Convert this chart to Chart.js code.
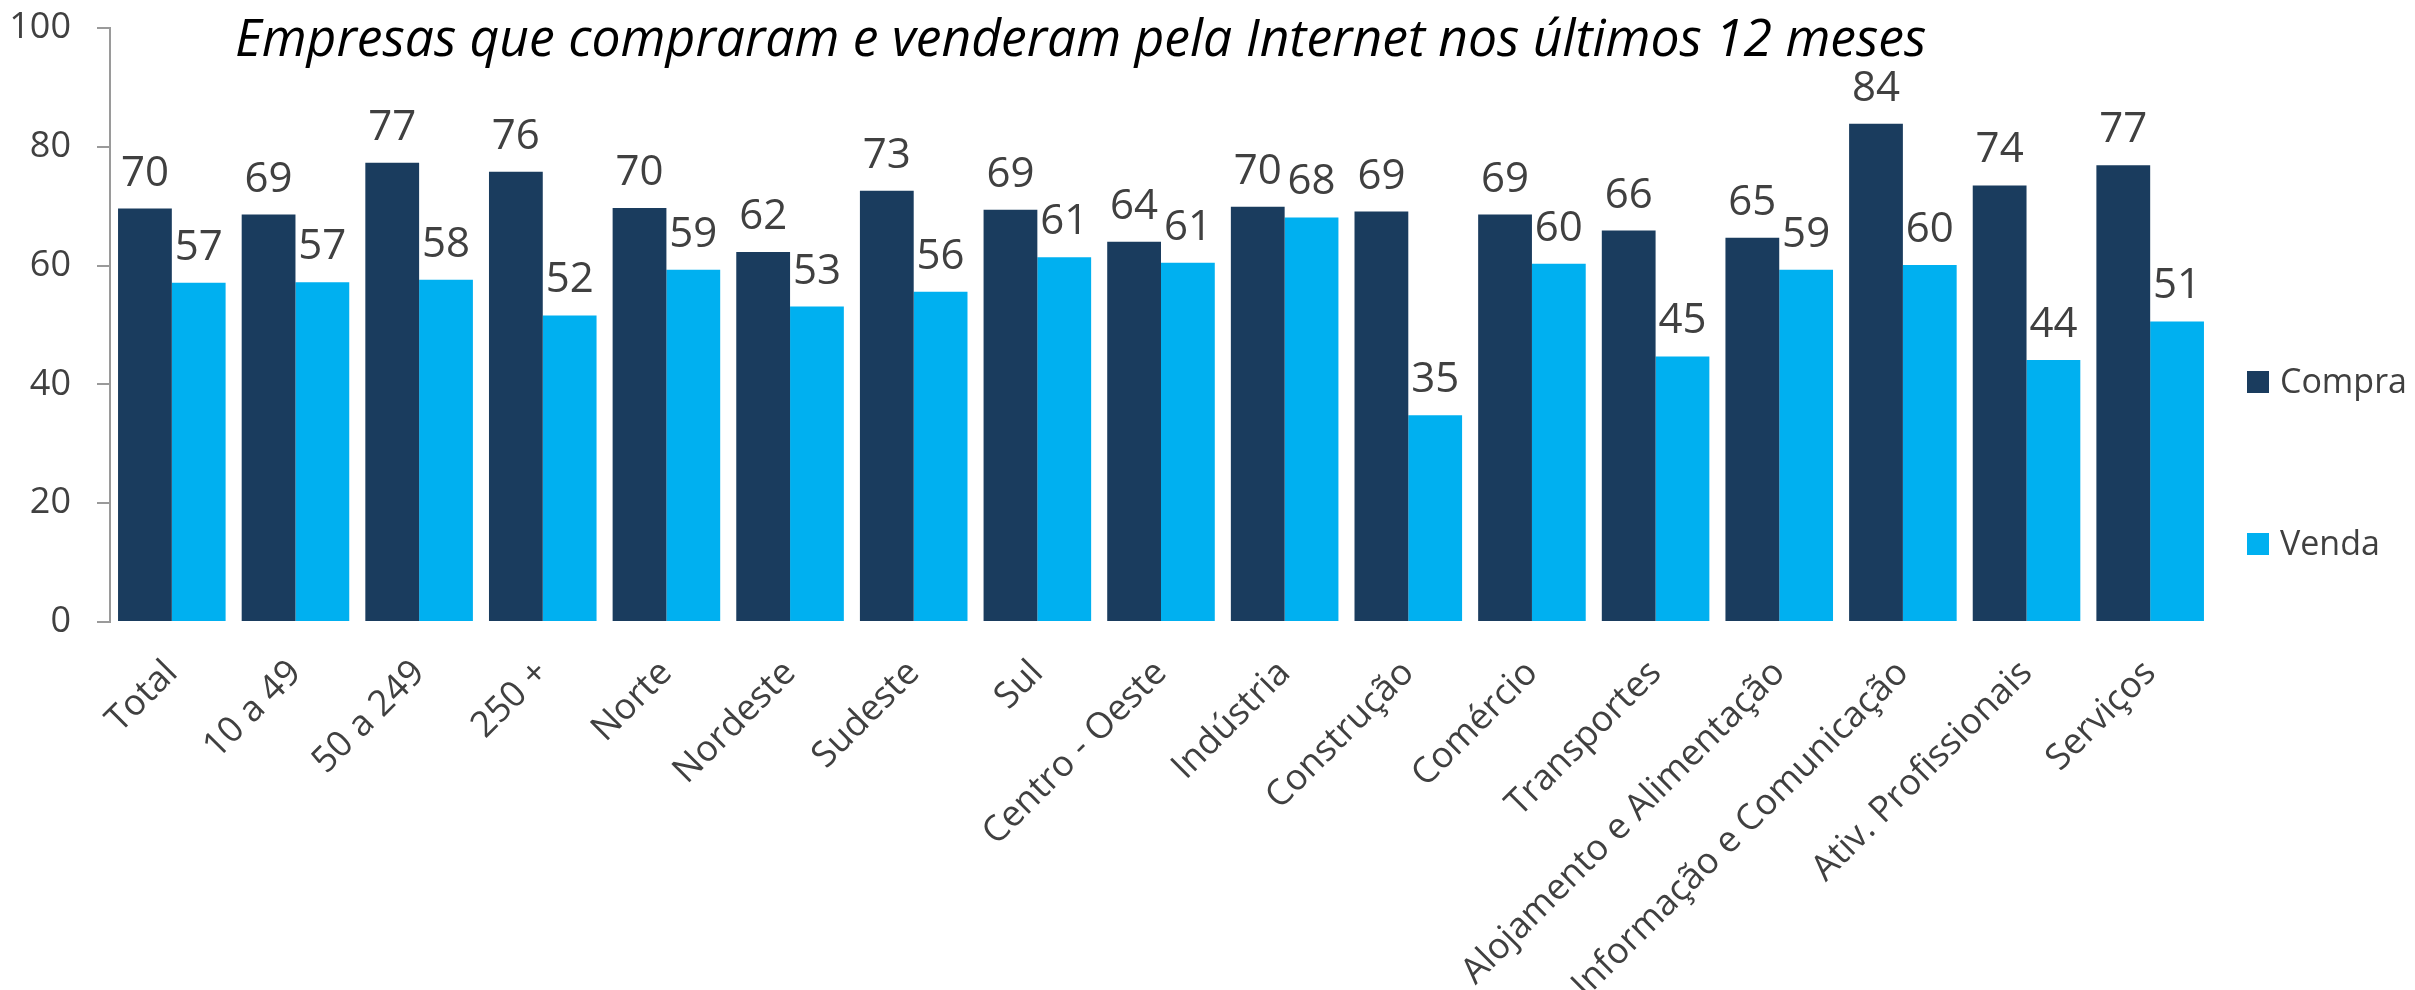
<!DOCTYPE html>
<html lang="pt">
<head>
  <meta charset="UTF-8">
  <title>Empresas que compraram e venderam pela Internet</title>
  <script src="https://cdn.jsdelivr.net/npm/chart.js"></script>
  <style>
    body { margin: 0; background: #fff; }
    #box { width: 2415px; height: 990px; }
  </style>
</head>
<body>
  <div id="box"><canvas id="grafico" width="2415" height="990"></canvas></div>

  <script>
    // Dados
    const categorias = ["Total", "10 a 49", "50 a 249", "250 +", "Norte", "Nordeste", "Sudeste", "Sul",
      "Centro - Oeste", "Indústria", "Construção", "Comércio", "Transportes", "Alojamento e Alimentação",
      "Informação e Comunicação", "Ativ. Profissionais", "Serviços"];
    const compra = [69.6, 68.6, 77.3, 75.8, 69.7, 62.3, 72.6, 69.4, 64.0, 69.9, 69.1, 68.6, 65.9, 64.7, 83.9, 73.5, 76.9];
    const venda = [57.1, 57.2, 57.6, 51.6, 59.3, 53.1, 55.6, 61.4, 60.5, 68.1, 34.8, 60.3, 44.7, 59.3, 60.1, 44.1, 50.6];
    const yTicks = [0, 20, 40, 60, 80, 100];
    const titulo = "Empresas que compraram e venderam pela Internet nos últimos 12 meses";

    const fonte = "'Open Sans', 'Noto Sans', sans-serif";
    const cinza = "#404040";

    // rótulos de valor acima das barras
    const rotulos = {
      id: "rotulos",
      afterDatasetsDraw(chart) {
        const ctx = chart.ctx;
        ctx.save();
        ctx.font = "42px " + fonte;
        ctx.fillStyle = cinza;
        ctx.textAlign = "center";
        ctx.textBaseline = "alphabetic";
        chart.data.datasets.forEach((ds, i) => {
          chart.getDatasetMeta(i).data.forEach((bar, j) => {
            ctx.fillText(Math.round(ds.data[j]), bar.x, bar.y - 23);
          });
        });
        ctx.restore();
      }
    };

    // título e legenda desenhados à mão
    const extras = {
      id: "extras",
      afterDraw(chart) {
        const ctx = chart.ctx;
        ctx.save();
        ctx.font = "italic 51.6px " + fonte;
        ctx.fillStyle = "#000";
        ctx.textAlign = "left";
        ctx.textBaseline = "alphabetic";
        ctx.fillText(titulo, 235, 56);

        const meio = [382, 544];
        ctx.font = "34px " + fonte;
        ctx.textBaseline = "middle";
        chart.data.datasets.forEach((ds, i) => {
          ctx.fillStyle = ds.backgroundColor;
          ctx.fillRect(2247, meio[i] - 11, 22, 22);
          ctx.fillStyle = cinza;
          ctx.fillText(ds.label, 2280, meio[i] + 1);
        });
        ctx.restore();
      }
    };

    function desenhar() {
      const ctx = document.getElementById("grafico").getContext("2d");
      new Chart(ctx, {
        type: "bar",
        data: {
          labels: categorias,
          datasets: [
            { label: "Compra", data: compra, backgroundColor: "#1A3C5E" },
            { label: "Venda", data: venda, backgroundColor: "#00B0F0" }
          ]
        },
        options: {
          responsive: false,
          animation: false,
          categoryPercentage: 0.87,
          barPercentage: 1,
          layout: { padding: { top: 0, right: 203, left: 0, bottom: 0 } },
          plugins: {
            legend: { display: false },
            title: { display: false },
            tooltip: { enabled: false }
          },
          scales: {
            x: {
              grid: { display: false, drawTicks: false },
              border: { display: false },
              ticks: {
                autoSkip: false,
                minRotation: 45,
                maxRotation: 45,
                padding: 30,
                color: cinza,
                font: { family: fonte, size: 36 }
              },
              afterFit(scale) { scale.height = 368; }
            },
            y: {
              min: 0,
              max: 100,
              afterBuildTicks(scale) { scale.ticks = yTicks.map(v => ({ value: v })); },
              grid: { drawOnChartArea: false, drawTicks: true, tickLength: 13, color: "#9A9A9A", lineWidth: 2 },
              border: { display: true, color: "#9A9A9A", width: 2 },
              ticks: {
                padding: 26,
                color: cinza,
                font: { family: fonte, size: 36 }
              },
              afterFit(scale) {
                scale.width = 110;
                scale.paddingTop = 28;
                scale.paddingBottom = 0;
              }
            }
          }
        },
        plugins: [rotulos, extras]
      });
    }

    if (document.fonts && document.fonts.load) {
      Promise.all([
        document.fonts.load("36px 'Open Sans'"),
        document.fonts.load("italic 52px 'Open Sans'")
      ]).then(desenhar, desenhar);
    } else {
      desenhar();
    }
  </script>
</body>
</html>
